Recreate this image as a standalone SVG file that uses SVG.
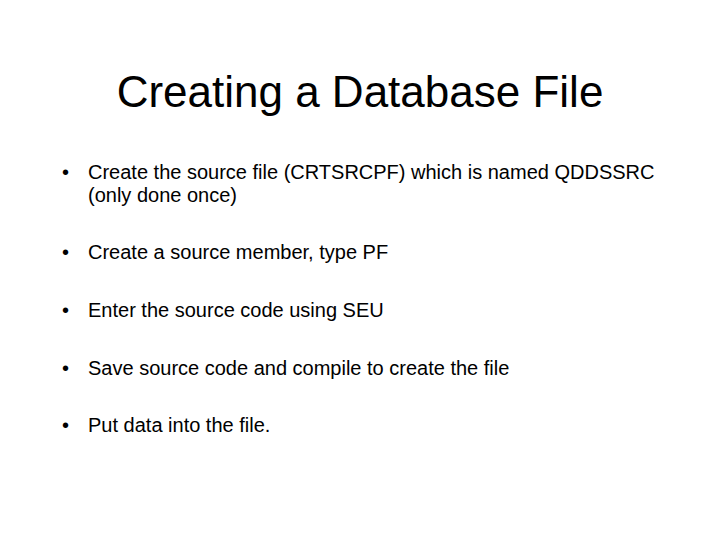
<svg xmlns="http://www.w3.org/2000/svg" width="720" height="540" viewBox="0 0 720 540">
<style>
.t{font-family:"Liberation Sans",Arial,sans-serif;fill:#000}
.title{font-size:44px}
.b{font-size:20px}
</style>
<rect width="720" height="540" fill="#fff"/>
<g id="title"><text class="t title" x="360" y="107" text-anchor="middle">Creating a Database File</text></g>
<g id="bullet1"><text class="t b" x="62" y="179">•</text><text class="t b" x="88" y="179">Create the source file (CRTSRCPF) which is named QDDSSRC</text><text class="t b" x="88" y="202">(only done once)</text></g>
<g id="bullet2"><text class="t b" x="62" y="259">•</text><text class="t b" x="88" y="259">Create a source member, type PF</text></g>
<g id="bullet3"><text class="t b" x="62" y="317">•</text><text class="t b" x="88" y="317">Enter the source code using SEU</text></g>
<g id="bullet4"><text class="t b" x="62" y="375">•</text><text class="t b" x="88" y="375">Save source code and compile to create the file</text></g>
<g id="bullet5"><text class="t b" x="62" y="432">•</text><text class="t b" x="88" y="432">Put data into the file.</text></g>
</svg>
